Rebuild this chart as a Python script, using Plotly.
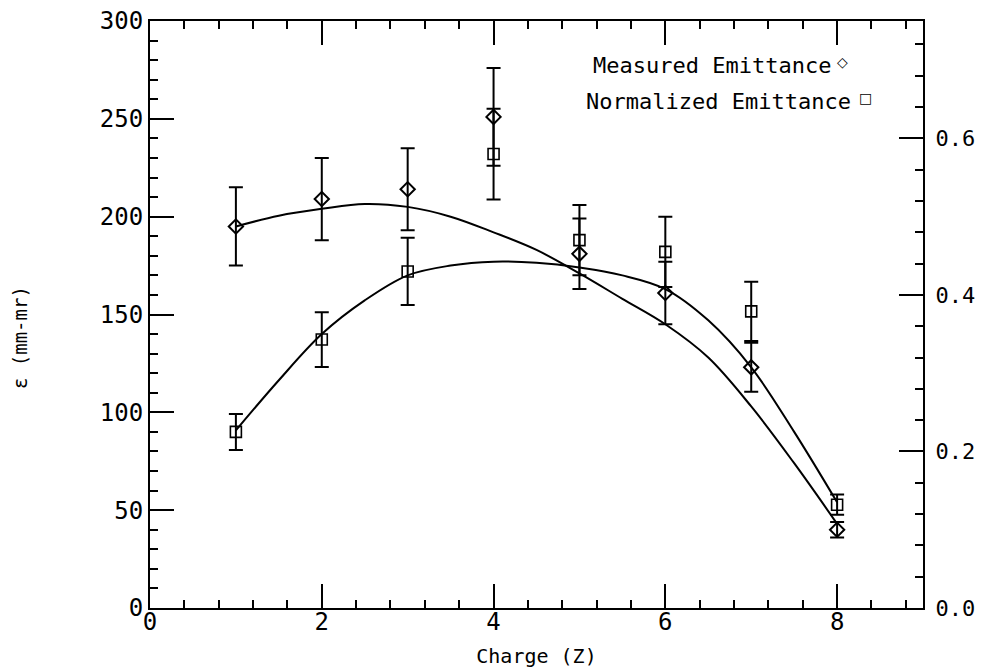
import plotly.graph_objects as go

# ---- data ----
charge = [1, 2, 3, 4, 5, 6, 7, 8]

measured = [195, 209, 214, 251, 181, 161, 123, 40]          # mm-mr (left axis)
measured_err = [20, 21, 21, 25, 18, 16, 12.5, 4]

normalized = [0.225, 0.343, 0.43, 0.58, 0.47, 0.455, 0.379, 0.132]  # right axis
normalized_err = [0.023, 0.035, 0.043, 0.058, 0.045, 0.045, 0.038, 0.013]

fit_x = [1, 1.5, 2, 2.5, 3, 3.5, 4, 4.5, 5, 5.5, 6, 6.5, 7, 7.5, 8]
measured_fit = [195, 200.5, 204, 206.5, 205, 200, 192, 183, 171, 158, 145, 128, 103, 74, 43]
normalized_fit = [0.227, 0.291, 0.35, 0.393, 0.425, 0.4375, 0.4425, 0.441, 0.435,
                  0.425, 0.4075, 0.3675, 0.3075, 0.225, 0.135]

x_ticks = [0, 2, 4, 6, 8]
y_ticks = [0, 50, 100, 150, 200, 250, 300]
y2_ticks = [0.0, 0.2, 0.4, 0.6]
y2_ticklabels = ["0.0", "0.2", "0.4", "0.6"]

FONT = "DejaVu Sans Mono"
BLACK = "#000000"

fig = go.Figure()

fig.add_trace(go.Scatter(
    x=fit_x, y=measured_fit, mode="lines", line=dict(color=BLACK, width=2, shape="spline", smoothing=1),
    showlegend=False, hoverinfo="skip"))
fig.add_trace(go.Scatter(
    x=fit_x, y=normalized_fit, mode="lines", line=dict(color=BLACK, width=2, shape="spline", smoothing=1),
    yaxis="y2", showlegend=False, hoverinfo="skip"))

fig.add_trace(go.Scatter(
    x=charge, y=measured, mode="markers", name="Measured Emittance",
    marker=dict(symbol="diamond-open", size=11, color=BLACK, line=dict(width=2, color=BLACK)),
    error_y=dict(type="data", array=measured_err, color=BLACK, thickness=2, width=7),
    showlegend=False))
fig.add_trace(go.Scatter(
    x=charge, y=normalized, mode="markers", name="Normalized Emittance", yaxis="y2",
    marker=dict(symbol="square-open", size=11, color=BLACK, line=dict(width=1.6, color=BLACK)),
    error_y=dict(type="data", array=normalized_err, color=BLACK, thickness=2, width=7),
    showlegend=False))

axis_common = dict(showline=True, linecolor=BLACK, linewidth=2, showgrid=False,
                   zeroline=False, ticks="inside", tickcolor=BLACK, tickwidth=1.5,
                   ticklen=24, automargin=False, ticklabeloverflow="allow")

fig.update_layout(
    width=975, height=663,
    margin=dict(l=142, r=60, t=13, b=63),
    paper_bgcolor="white", plot_bgcolor="white",
    font=dict(family=FONT, color=BLACK),
    xaxis=dict(range=[0, 9], tickvals=x_ticks, mirror="ticks", ticklabelstandoff=-9,
               tickfont=dict(family=FONT, size=24, color=BLACK),
               minor=dict(dtick=0.4, tick0=0, ticklen=8, ticks="inside", tickcolor=BLACK, tickwidth=1.5),
               title=dict(text="Charge (Z)", font=dict(family=FONT, size=20, color=BLACK), standoff=14),
               **axis_common),
    yaxis=dict(range=[0, 300], tickvals=y_ticks,
               tickfont=dict(family=FONT, size=24, color=BLACK),
               minor=dict(dtick=10, tick0=0, ticklen=8, ticks="inside", tickcolor=BLACK, tickwidth=1.5),
               **axis_common),
    yaxis2=dict(range=[0, 0.75], tickvals=y2_ticks, ticktext=y2_ticklabels,
                overlaying="y", side="right", ticklabelstandoff=6,
                tickfont=dict(family=FONT, size=22, color=BLACK),
                minor=dict(dtick=0.04, tick0=0, ticklen=8, ticks="inside", tickcolor=BLACK, tickwidth=1.5),
                **axis_common),
)

fig.add_annotation(text="ε (mm-mr)", xref="paper", yref="paper", x=-0.168, y=0.46,
                   xanchor="center", yanchor="middle",
                   textangle=-90, showarrow=False, font=dict(family=FONT, size=19, color=BLACK))

fig.add_annotation(text="Measured Emittance", xref="paper", yref="paper", x=0.8836, y=0.925,
                   xanchor="right", yanchor="middle", showarrow=False,
                   font=dict(family=FONT, size=22, color=BLACK))
fig.add_annotation(text="◇", xref="paper", yref="paper", x=0.896, y=0.93,
                   xanchor="center", yanchor="middle", showarrow=False,
                   font=dict(family="DejaVu Sans", size=14, color=BLACK))
fig.add_annotation(text="Normalized Emittance", xref="paper", yref="paper", x=0.9095, y=0.8637,
                   xanchor="right", yanchor="middle", showarrow=False,
                   font=dict(family=FONT, size=22, color=BLACK))
fig.add_annotation(text="□", xref="paper", yref="paper", x=0.925, y=0.8687,
                   xanchor="center", yanchor="middle", showarrow=False,
                   font=dict(family="DejaVu Sans", size=14, color=BLACK))

fig.write_html("out.html")
